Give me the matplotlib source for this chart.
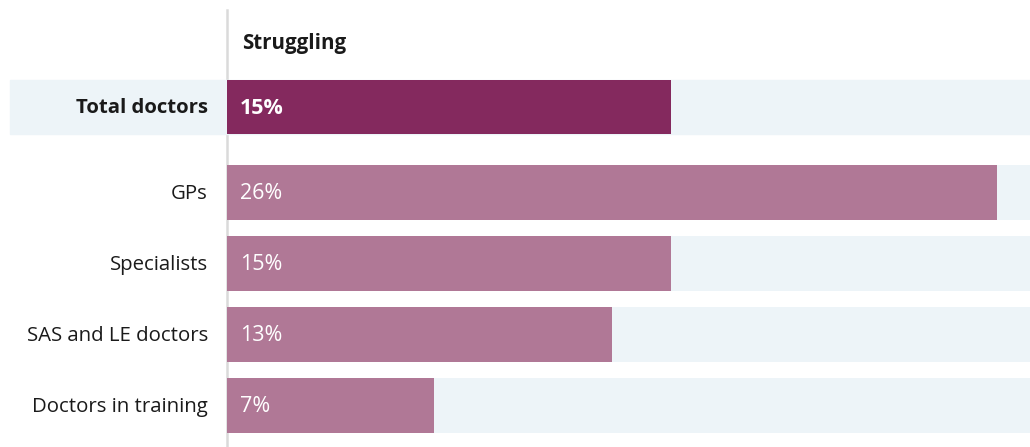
import matplotlib.pyplot as plt
from matplotlib.patches import Rectangle

plt.rcParams["font.family"] = ["Open Sans", "DejaVu Sans"]

categories = ["Total doctors", "GPs", "Specialists", "SAS and LE doctors", "Doctors in training"]
struggling = [15, 26, 15, 13, 7]
track_max = 27.1
title = "Struggling"

bar_dark = "#84295E"
bar_light = "#B07896"
track = "#EDF4F8"

W, H = 1030, 447
fig = plt.figure(figsize=(W / 100, H / 100), dpi=100)
ax_left = 227 / W
ax = fig.add_axes([ax_left, 0, 1 - ax_left, 1])

# total row sits apart from the breakdown rows
ypos = [0] + [1.2 + i for i in range(len(categories) - 1)]
h = 0.77
ax.set_xlim(0, track_max)
ax.set_ylim(-1.507 + H / 71, -1.507)

# light tracks behind each bar
ax.barh(ypos[1:], [track_max] * (len(ypos) - 1), height=h, color=track, zorder=1)
ax.add_patch(Rectangle((-217 / 803, ypos[0] - h / 2), 1 + 217 / 803, h,
                       transform=ax.get_yaxis_transform(), color=track,
                       clip_on=False, zorder=1))

colors = [bar_dark] + [bar_light] * (len(categories) - 1)
ax.barh(ypos, struggling, height=h, color=colors, zorder=3)

for i, (cat, v, y) in enumerate(zip(categories, struggling, ypos)):
    weight = "bold" if i == 0 else "normal"
    ax.text(-19 / 803 * track_max, y + 0.02, cat, ha="right", va="center",
            fontsize=14.7, color="#1a1a1a", weight=weight, clip_on=False)
    ax.text(13 / 803 * track_max, y + 0.02, f"{v}%", ha="left", va="center",
            fontsize=15.5, color="white", weight=weight, zorder=4)

ax.text(15 / 803 * track_max, -1.507 + 44 / 71, title, ha="left", va="center",
        fontsize=14.8, weight="bold", color="#1a1a1a")

# thin grey baseline
ax.plot([0, 0], [-1.507 + 10 / 71, -1.507 + H / 71], color="#DADADA",
        lw=1.8, zorder=0, clip_on=False)

ax.axis("off")
fig.savefig("out.png", dpi=100)
